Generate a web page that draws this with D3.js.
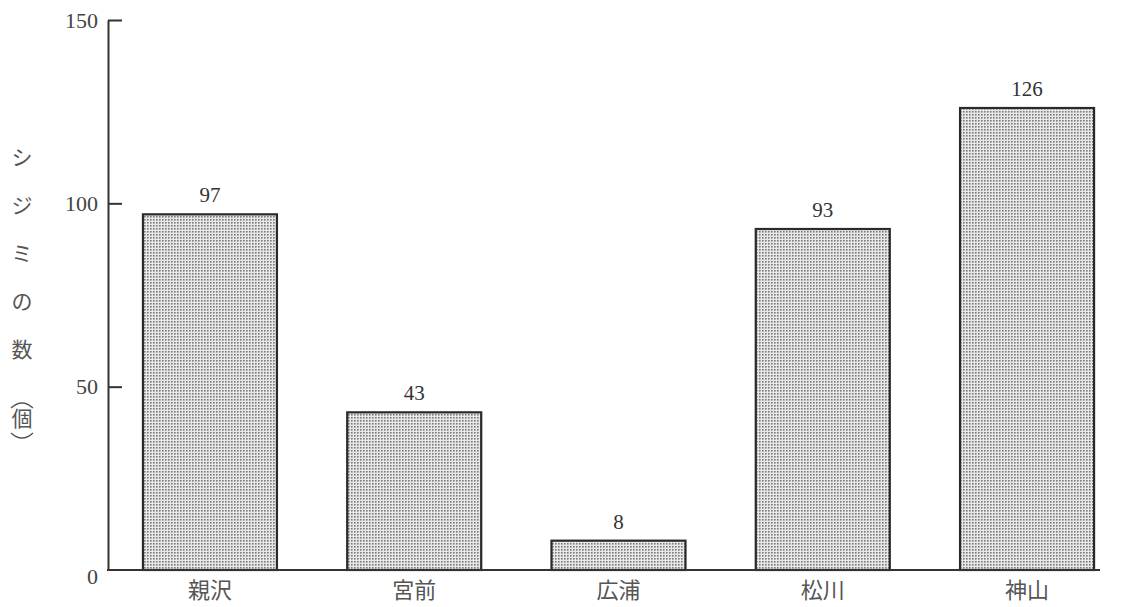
<!DOCTYPE html>
<html><head><meta charset="utf-8">
<script src="https://cdn.jsdelivr.net/npm/d3@7"></script>
<style>
html,body{margin:0;padding:0;background:#fff;}
svg{display:block;}
</style></head>
<body>
<svg id="chart" width="1134" height="607"></svg>
<script>
const categories = ["親沢", "宮前", "広浦", "松川", "神山"];
const values = [97, 43, 8, 93, 126];
const yTicks = [0, 50, 100, 150];
const yTitleChars = ["シ", "ジ", "ミ", "の", "数"];
const yTitleUnit = "個";

const svg = d3.select("#chart");
const serif = "'Liberation Serif','DejaVu Serif',serif";
const cjk = "'Noto Sans CJK JP','Noto Sans CJK SC',sans-serif";

const defs = svg.append("defs");
const pat = defs.append("pattern").attr("id", "dots")
  .attr("width", 3).attr("height", 3).attr("patternUnits", "userSpaceOnUse");
pat.append("rect").attr("width", 3).attr("height", 3).attr("fill", "#e8e8e8");
pat.append("rect").attr("width", 1.6).attr("height", 1.6).attr("fill", "#7a7a7a");

const x = d3.scaleBand().domain(categories).range([108, 1129])
  .paddingInner(0.344).paddingOuter(0.171);
const y = d3.scaleLinear().domain([0, 150]).range([570, 20]);

// bars
svg.append("g").selectAll("rect").data(values).join("rect")
  .attr("x", (d, i) => x(categories[i]))
  .attr("y", d => y(d))
  .attr("width", x.bandwidth())
  .attr("height", d => y(0) - y(d))
  .attr("fill", "url(#dots)")
  .attr("stroke", "#2a2a2a").attr("stroke-width", 2.2);

// value labels
svg.append("g").selectAll("text").data(values).join("text")
  .attr("x", (d, i) => x(categories[i]) + x.bandwidth() / 2)
  .attr("y", d => y(d) - 12)
  .attr("text-anchor", "middle")
  .attr("font-family", serif).attr("font-size", 21).attr("fill", "#333")
  .text(d => d);

// y axis
const yAxis = d3.axisLeft(y).tickValues(yTicks).tickSizeInner(-14).tickSizeOuter(0).tickPadding(10);
const gy = svg.append("g").attr("transform", "translate(108,0)").call(yAxis);
gy.select(".domain").attr("stroke", "#333").attr("stroke-width", 2);
gy.selectAll(".tick line").attr("stroke", "#333").attr("stroke-width", 2);
gy.selectAll(".tick text").attr("font-family", serif).attr("font-size", 22).attr("fill", "#444");
gy.selectAll(".tick").filter(d => d === 0).select("line").remove();
gy.selectAll(".tick").filter(d => d === 0).select("text").attr("dy", "0.6em");

// x axis baseline
const xEnd = x(categories[categories.length - 1]) + x.bandwidth() + 6;
svg.append("line").attr("x1", 107).attr("x2", xEnd)
  .attr("y1", y(0)).attr("y2", y(0))
  .attr("stroke", "#333").attr("stroke-width", 2);

// category labels
svg.append("g").selectAll("text").data(categories).join("text")
  .attr("x", d => x(d) + x.bandwidth() / 2)
  .attr("y", 598)
  .attr("text-anchor", "middle")
  .attr("font-family", cjk).attr("font-size", 22).attr("fill", "#555")
  .text(d => d);

// y title (vertical)
const tg = svg.append("g").attr("font-family", cjk).attr("font-size", 21).attr("fill", "#555");
tg.selectAll("text").data(yTitleChars).join("text")
  .attr("x", 22).attr("y", (d, i) => 165 + i * 48)
  .attr("text-anchor", "middle")
  .text(d => d);
tg.append("text").attr("x", 22).attr("y", 426).attr("text-anchor", "middle").text(yTitleUnit);
tg.append("path").attr("d", "M11,408 Q22,398 33,408").attr("fill", "none").attr("stroke", "#555").attr("stroke-width", 1.4);
tg.append("path").attr("d", "M11,433 Q22,443 33,433").attr("fill", "none").attr("stroke", "#555").attr("stroke-width", 1.4);
</script>
</body></html>
